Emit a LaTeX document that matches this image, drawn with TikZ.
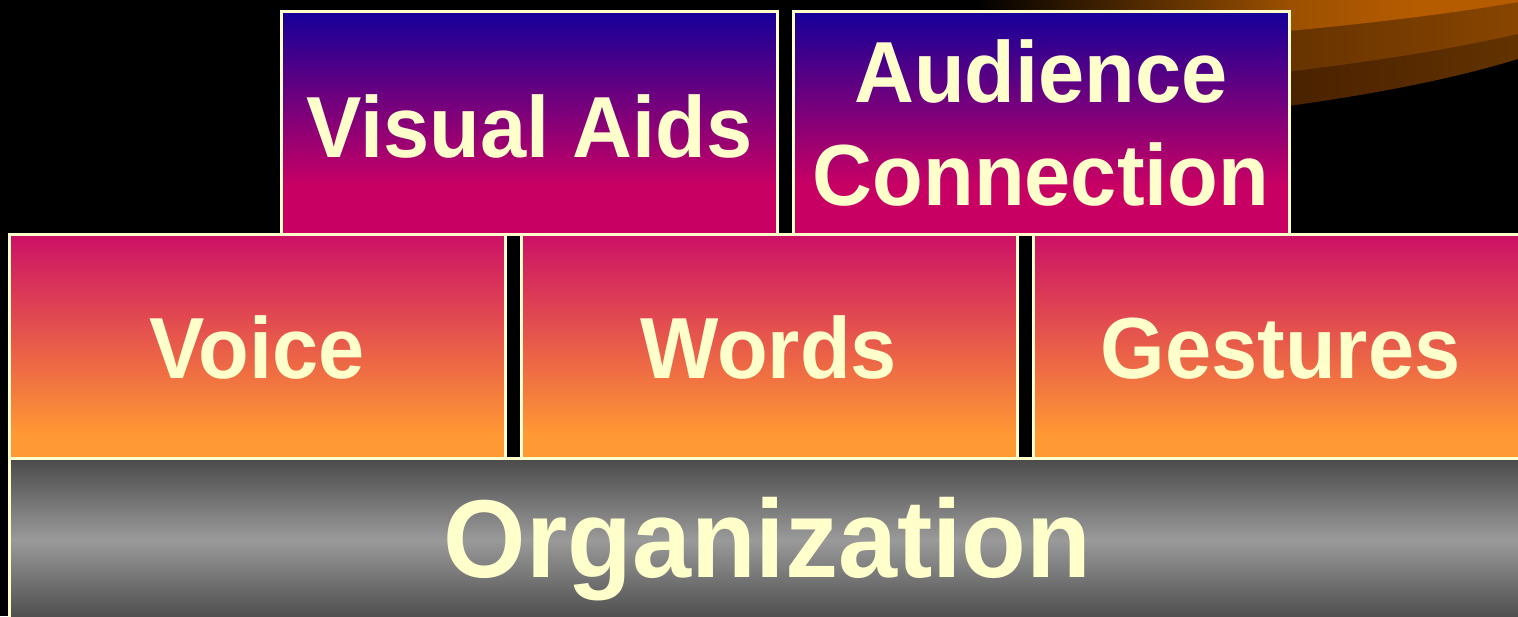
\documentclass[tikz,border=0pt]{standalone}
\usepackage{fontspec}
\setmainfont{Liberation Sans}
\usepackage{graphicx}
\definecolor{txt}{HTML}{FFFFCC}
\definecolor{tbT}{HTML}{140099}
\definecolor{tbB}{HTML}{C80064}
\definecolor{mbT}{HTML}{CC1166}
\definecolor{mbB}{HTML}{FF9933}
\definecolor{gD}{HTML}{4A4A4A}
\definecolor{gL}{HTML}{9A9A9A}
\definecolor{sw1a}{HTML}{9C5000}
\definecolor{sw1b}{HTML}{B55C00}
\definecolor{sw2a}{HTML}{673300}
\definecolor{sw2b}{HTML}{8A4600}
\definecolor{sw3a}{HTML}{4A2200}
\definecolor{sw3b}{HTML}{643300}
\pgfdeclareverticalshading{topbox}{100bp}{color(0bp)=(tbB); color(36bp)=(tbB); color(75bp)=(tbT); color(100bp)=(tbT)}
\pgfdeclareverticalshading{midbox}{100bp}{color(0bp)=(mbB); color(30bp)=(mbB); color(75bp)=(mbT); color(100bp)=(mbT)}
\pgfdeclareverticalshading{orgbox}{100bp}{color(0bp)=(gD); color(25bp)=(gD); color(50bp)=(gL); color(75bp)=(gD); color(100bp)=(gD)}
\pgfdeclarehorizontalshading{swa}{100bp}{color(0bp)=(black); color(31bp)=(black); color(56bp)=(sw1a); color(66bp)=(sw1b); color(100bp)=(sw1b)}
\pgfdeclarehorizontalshading{swb}{100bp}{color(0bp)=(black); color(31bp)=(black); color(56bp)=(sw2a); color(75bp)=(sw2b); color(100bp)=(sw2b)}
\pgfdeclarehorizontalshading{swc}{100bp}{color(0bp)=(black); color(31bp)=(black); color(56bp)=(sw3a); color(75bp)=(sw3b); color(100bp)=(sw3b)}
\newcommand{\stretchlbl}[1]{\scalebox{1}[1.045]{#1}}
\tikzset{
  boxline/.style={draw=txt, line width=3pt},
  lbl/.style={text=txt, inner sep=0pt, anchor=base, font=\bfseries\fontsize{83}{100}\selectfont},
  biglbl/.style={lbl, font=\bfseries\fontsize{106}{120}\selectfont}
}
\begin{document}
\begin{tikzpicture}[x=1pt, y=-1pt]
\useasboundingbox (0,0) rectangle (1518,616);
\clip (0,0) rectangle (1518,616);
\fill[black] (0,0) rectangle (1518,616);
% swoosh
\shade[shading=swc] (900,-5) -- (1530,-5) -- (1530,55) .. controls (1420,92) and (1200,128) .. (900,135) -- cycle;
\shade[shading=swb] (900,-5) -- (1530,-5) -- (1530,31) .. controls (1420,58) and (1200,90) .. (900,100) -- cycle;
\shade[shading=swa] (900,-5) -- (1530,-5) -- (1530,0) .. controls (1420,20) and (1200,45) .. (900,55) -- cycle;
% top row
\shade[shading=topbox, boxline] (281.5,11) rectangle (777.5,234.5);
\shade[shading=topbox, boxline] (793.5,11) rectangle (1289,234.5);
% middle row
\shade[shading=midbox, boxline] (9.5,234.5) rectangle (505,458);
\shade[shading=midbox, boxline] (521.5,234.5) rectangle (1017,458);
\shade[shading=midbox, boxline] (1033,234.5) rectangle (1528,458);
% base
\shade[shading=orgbox, boxline] (9.5,458) rectangle (1528,622);
% labels
\node[lbl] (va) at (529.5,157) {\stretchlbl{Visual Aids}};
\node[lbl] (ac1) at (1041,102) {\stretchlbl{Audience}};
\node[lbl] (ac2) at (1041,205) {\stretchlbl{Connection}};
\node[lbl] (voice) at (257,378) {\stretchlbl{Voice}};
\node[lbl] (words) at (768.5,378) {\stretchlbl{Words}};
\node[lbl] (gestures) at (1280.5,378) {\stretchlbl{Gestures}};
\node[biglbl] (org) at (767.5,577) {\stretchlbl{Organization}};
\end{tikzpicture}
\end{document}
